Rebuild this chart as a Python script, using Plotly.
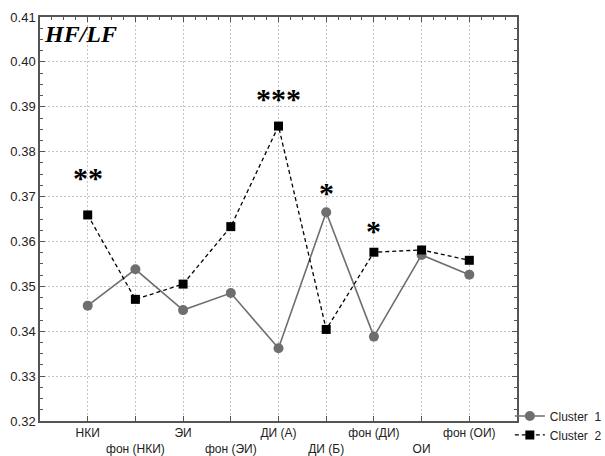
import plotly.graph_objects as go

categories = ["НКИ", "фон (НКИ)", "ЭИ", "фон (ЭИ)", "ДИ (А)", "ДИ (Б)", "фон (ДИ)", "ОИ", "фон (ОИ)"]
cluster1 = [0.3457, 0.3538, 0.3447, 0.3485, 0.3362, 0.3665, 0.3388, 0.3570, 0.3526]
cluster2 = [0.3659, 0.3471, 0.3505, 0.3633, 0.3857, 0.3404, 0.3576, 0.3581, 0.3558]
sig_idx = [0, 4, 5, 6]
sig_text = ["**", "***", "*", "*"]
sig_y = [0.3742, 0.3918, 0.3710, 0.3625]
y_ticks = [0.32, 0.33, 0.34, 0.35, 0.36, 0.37, 0.38, 0.39, 0.40, 0.41]

xpos = list(range(len(categories)))
ticktext = [c if i % 2 == 0 else "<br>" + c for i, c in enumerate(categories)]

fig = go.Figure()
fig.add_trace(go.Scatter(
    x=xpos, y=cluster1, name="Cluster  1", mode="lines+markers",
    line=dict(color="#6e6e6e", width=1.6),
    marker=dict(symbol="circle", size=10, color="#6e6e6e"),
))
fig.add_trace(go.Scatter(
    x=xpos, y=cluster2, name="Cluster  2", mode="lines+markers",
    line=dict(color="#000000", width=1.3, dash="4px,3px"),
    marker=dict(symbol="square", size=9, color="#000000"),
))
# top axis with minor ticks
fig.add_trace(go.Scatter(x=[-1, 9], y=[0.32, 0.32], xaxis="x2", mode="markers",
                         marker=dict(opacity=0), showlegend=False, hoverinfo="skip"))

for i, t, yv in zip(sig_idx, sig_text, sig_y):
    fig.add_annotation(x=i, y=yv, text="<b>" + t + "</b>", showarrow=False,
                       font=dict(family="Liberation Serif", size=30, color="#000000"),
                       xref="x", yref="y")

fig.add_annotation(x=0, y=1, xref="paper", yref="paper", xanchor="left", yanchor="top",
                   xshift=2, yshift=-2,
                   text="<b><i>HF/LF</i></b>", showarrow=False,
                   font=dict(family="Liberation Serif", size=24, color="#000000"))

axcol = "#555555"
gridcol = "#c4c4c4"
fig.update_layout(
    width=605, height=456,
    margin=dict(l=40, r=88, t=17, b=35, autoexpand=False),
    paper_bgcolor="white", plot_bgcolor="white",
    font=dict(family="Liberation Sans", size=12, color="#222222"),
    xaxis=dict(
        range=[-1, 9], tickvals=xpos, ticktext=ticktext, tickangle=0, automargin=False,
        showgrid=True, gridcolor=gridcol, griddash="2px,2px", gridwidth=1,
        showline=True, linecolor=axcol, linewidth=1.5, mirror=True,
        ticks="inside", ticklen=5, tickcolor=axcol,
        zeroline=False, tickfont=dict(size=12, color="#222222"),
    ),
    xaxis2=dict(
        overlaying="x", side="top", range=[-1, 9], tickvals=xpos, automargin=False,
        showticklabels=False, showgrid=False, zeroline=False, showline=False,
        ticks="inside", ticklen=5, tickcolor=axcol,
        minor=dict(dtick=0.25, tick0=0, ticks="inside", ticklen=3, tickcolor=axcol, showgrid=False),
    ),
    yaxis=dict(
        range=[0.32, 0.41], tickvals=y_ticks, tickformat=".2f", automargin=False,
        showgrid=True, gridcolor=gridcol, griddash="2px,2px", gridwidth=1,
        showline=True, linecolor=axcol, linewidth=1.5, mirror="ticks",
        ticks="inside", ticklen=5, tickcolor=axcol,
        minor=dict(dtick=0.0025, tick0=0.32, ticks="inside", ticklen=3, tickcolor=axcol, showgrid=False),
        zeroline=False, tickfont=dict(size=13, color="#222222"),
    ),
    legend=dict(x=0.985, y=-0.011, xanchor="left", yanchor="middle", xref="paper", yref="paper",
                font=dict(size=12, color="#222222"), bgcolor="rgba(0,0,0,0)",
                tracegroupgap=0, itemwidth=30),
    showlegend=True,
)

fig.write_html("out.html", config={"displayModeBar": False},
               post_script="document.body.style.margin='0';document.body.style.padding='0';")
